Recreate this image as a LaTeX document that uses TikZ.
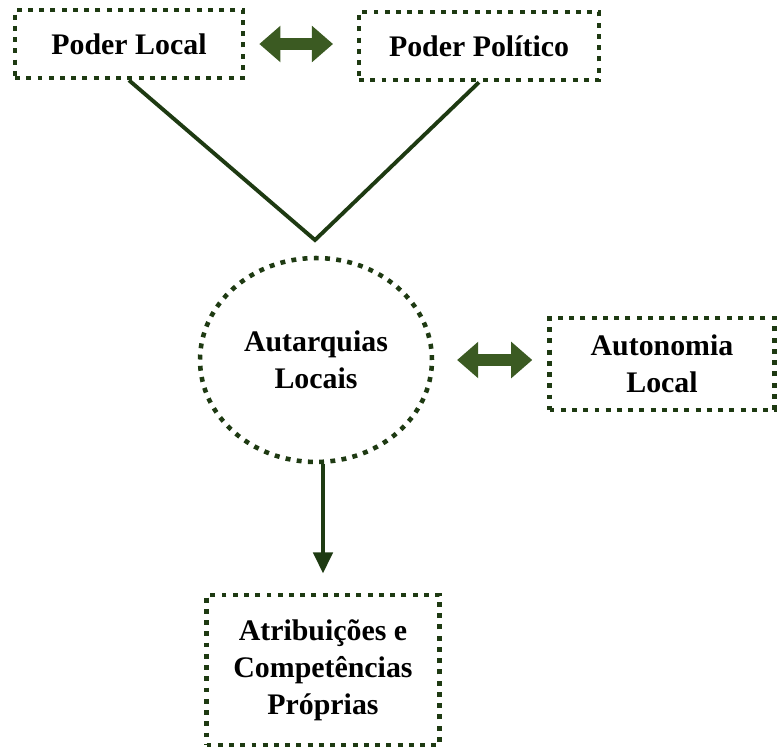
\documentclass[tikz,border=0pt]{standalone}
\usepackage{fontspec}
\setmainfont{Liberation Serif}
\usepackage{tikz}
\usetikzlibrary{
  arrows.meta,
  positioning,
  shapes.geometric,
  calc
}

\definecolor{darkgreen}{HTML}{1E3A12}
\definecolor{arrowgreen}{HTML}{3B5A22}

\begin{document}
\begin{tikzpicture}[
  x=0.02cm, y=-0.02cm,
  % Node styles
  dotbox/.style={
    rectangle,
    draw=darkgreen,
    line width=2.6pt,
    dash pattern=on 2.8pt off 3.6pt,
    font=\fontsize{17}{21}\selectfont\bfseries,
    align=center,
    inner sep=2pt,
  },
  dotcircle/.style={
    ellipse,
    draw=darkgreen,
    line width=2.6pt,
    dash pattern=on 2.8pt off 3.6pt,
    font=\fontsize{17}{21}\selectfont\bfseries,
    align=center,
  },
  link/.style={
    line width=2.2pt,
    darkgreen,
  },
  arrow/.style={
    -{Triangle[length=12pt,width=11pt]},
    line width=2.2pt,
    darkgreen,
  },
  fatarrow/.style={
    {Triangle[length=12pt,width=20pt]}-{Triangle[length=12pt,width=20pt]},
    line width=6.5pt,
    arrowgreen,
  },
]

\useasboundingbox (0,0) rectangle (779,748);

% ── Top row ──
\node[dotbox, minimum width=4.56cm, minimum height=1.36cm] (local) at (129,44) {Poder Local};
\node[dotbox, minimum width=4.8cm, minimum height=1.36cm] (politico) at (479,46) {Poder Político};

% ── Middle row ──
\coordinate (apex) at (315,240);
\node[dotcircle, minimum width=4.64cm, minimum height=4.08cm] (autarquias) at (316,360) {Autarquias\\Locais};
\node[dotbox, minimum width=4.5cm, minimum height=1.84cm] (autonomia) at (662,364) {Autonomia\\Local};

% ── Bottom ──
\node[dotbox, minimum width=4.66cm, minimum height=3.0cm] (atribuicoes) at (323,670) {Atribuições e\\Competências\\Próprias};

% ── Arrows ──
% Local <-> Politico
\draw[fatarrow, shorten <=8pt, shorten >=13.5pt]
  (local.east) -- (local.east -| politico.west);
% Autarquias <-> Autonomia
\draw[fatarrow, shorten <=13pt, shorten >=8.5pt]
  (autarquias.east) -- (autarquias.east -| autonomia.west);

% Local, Politico -> apex
\draw[link] (local.south) -- (apex) -- (politico.south);

% Autarquias -> Atribuicoes
\draw[arrow, shorten >=11pt] (autarquias.south -| atribuicoes.north) -- (atribuicoes.north);

\end{tikzpicture}
\end{document}
